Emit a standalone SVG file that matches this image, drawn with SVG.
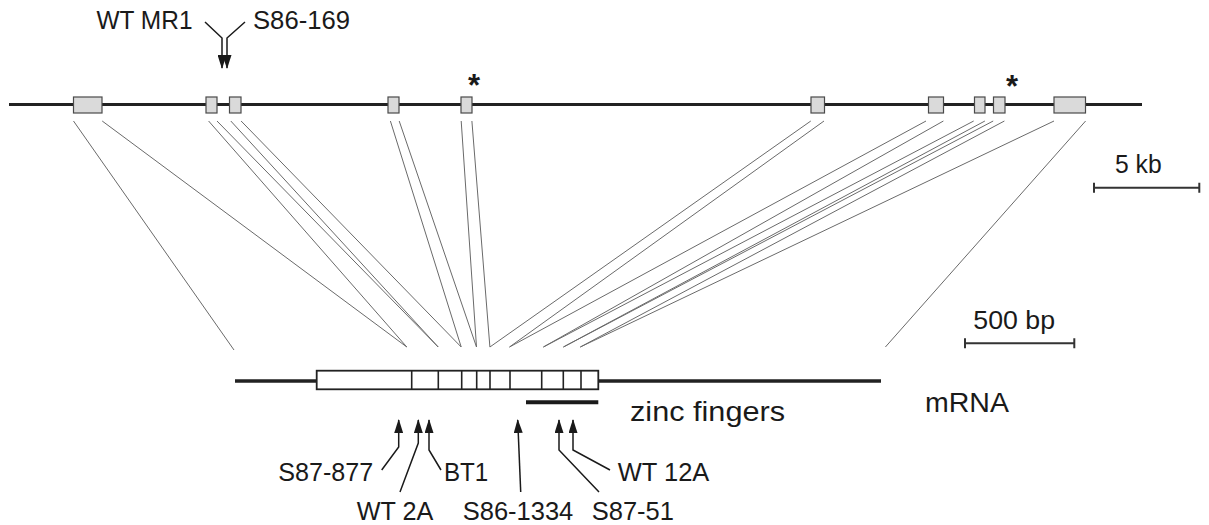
<svg xmlns="http://www.w3.org/2000/svg" width="1209" height="525" viewBox="0 0 1209 525">
<defs>
<style>
.t{font-family:"Liberation Sans",Arial,sans-serif;font-size:25.5px;fill:#1a1a1a}
.big{font-size:27px}
.ast{font-family:"Liberation Sans",Arial,sans-serif;font-size:31px;font-weight:bold;fill:#1a1a1a}
.exon{fill:#dadada;stroke:#4a4a4a;stroke-width:1.2}
.conn line{stroke:#6a6a6a;stroke-width:1}
.arr{fill:none;stroke:#1a1a1a;stroke-width:1.5}
.bar{stroke:#333;stroke-width:2;fill:none}
</style>
<marker id="ah" markerUnits="userSpaceOnUse" markerWidth="14" markerHeight="9" refX="13" refY="4.5" orient="auto">
<path d="M0,0 L14,4.5 L0,9 z" fill="#1a1a1a"/>
</marker>
</defs>
<rect width="1209" height="525" fill="#fff"/>

<g id="genomic">
<line x1="9" y1="104.5" x2="1142" y2="104.5" stroke="#222" stroke-width="3"/>
<rect class="exon" x="73.5" y="97" width="28.5" height="16"/>
<rect class="exon" x="206" y="97" width="11" height="16"/>
<rect class="exon" x="229.5" y="97" width="11.5" height="16"/>
<rect class="exon" x="388" y="97" width="11" height="16"/>
<rect class="exon" x="461" y="97" width="11" height="16"/>
<rect class="exon" x="811" y="97" width="13.5" height="16"/>
<rect class="exon" x="928.5" y="97" width="15" height="16"/>
<rect class="exon" x="974.5" y="97" width="10.5" height="16"/>
<rect class="exon" x="993.5" y="97" width="11.5" height="16"/>
<rect class="exon" x="1054" y="97" width="31.5" height="16"/>
<text class="ast" x="474" y="96" text-anchor="middle">*</text>
<text class="ast" x="1012" y="97" text-anchor="middle">*</text>
</g>

<g id="top-arrow">
<text class="t" x="96.5" y="28.5" textLength="96" lengthAdjust="spacingAndGlyphs">WT MR1</text>
<text class="t" x="253" y="28.5" textLength="97" lengthAdjust="spacingAndGlyphs">S86-169</text>
<path class="arr" d="M205,22 L222,38 L222,68" marker-end="url(#ah)"/>
<path class="arr" d="M245,22 L227,38 L227,68" marker-end="url(#ah)"/>
</g>

<g id="connectors" class="conn">
<line x1="73.5" y1="121" x2="234" y2="350"/>
<line x1="102.2" y1="121" x2="406.8" y2="347"/>
<line x1="208.6" y1="121" x2="406.8" y2="347"/>
<line x1="217" y1="121" x2="438.2" y2="347"/>
<line x1="230.8" y1="121" x2="438.2" y2="347"/>
<line x1="241.1" y1="121" x2="461.2" y2="347"/>
<line x1="390.4" y1="121" x2="461.2" y2="347"/>
<line x1="399.2" y1="121" x2="476.5" y2="347"/>
<line x1="461.2" y1="121" x2="476.5" y2="347"/>
<line x1="471.9" y1="121" x2="489.9" y2="347"/>
<line x1="810.8" y1="121" x2="489.9" y2="347"/>
<line x1="824" y1="121" x2="509.5" y2="347"/>
<line x1="926" y1="121" x2="509.5" y2="347"/>
<line x1="943.4" y1="121" x2="543.4" y2="347"/>
<line x1="973.7" y1="121" x2="543.4" y2="347"/>
<line x1="984.9" y1="121" x2="563.4" y2="347"/>
<line x1="993.2" y1="121" x2="563.4" y2="347"/>
<line x1="1004.4" y1="121" x2="580.3" y2="347"/>
<line x1="1054" y1="121" x2="580.3" y2="347"/>
<line x1="1085.6" y1="121" x2="885.4" y2="347"/>
</g>

<g id="mrna">
<line x1="235" y1="381" x2="881" y2="381" stroke="#222" stroke-width="3.5"/>
<rect x="316.7" y="370.7" width="281.6" height="18.6" fill="#fff" stroke="#222" stroke-width="1.8"/>
<path d="M411.7,370.7V389.3 M438.3,370.7V389.3 M461.7,370.7V389.3 M476.7,370.7V389.3 M490,370.7V389.3 M510,370.7V389.3 M541.7,370.7V389.3 M563.3,370.7V389.3 M581,370.7V389.3" stroke="#222" stroke-width="1.6" fill="none"/>
<text class="t big" x="925" y="412" textLength="84" lengthAdjust="spacingAndGlyphs">mRNA</text>
</g>

<g id="zinc-fingers">
<line x1="526" y1="402.3" x2="598.3" y2="402.3" stroke="#1a1a1a" stroke-width="4"/>
<text class="t big" x="630" y="421" textLength="155" lengthAdjust="spacingAndGlyphs">zinc fingers</text>
</g>

<g id="scale-5kb">
<path class="bar" d="M1094,187.7H1199.3 M1094,182.7V192.7 M1199.3,182.7V192.7"/>
<text class="t" x="1115" y="173.3" textLength="46.7" lengthAdjust="spacingAndGlyphs">5 kb</text>
</g>

<g id="scale-500bp">
<path class="bar" d="M965,343.3H1074.3 M965,338.3V348.3 M1074.3,338.3V348.3"/>
<text class="t" x="973.3" y="329.3" textLength="81.7" lengthAdjust="spacingAndGlyphs">500 bp</text>
</g>

<g id="mutations">
<path class="arr" d="M381.7,470 L398.7,447 L398.7,420" marker-end="url(#ah)"/>
<path class="arr" d="M400,492 L418.3,443 L418.3,420" marker-end="url(#ah)"/>
<path class="arr" d="M441,470 L429,450 L429,420" marker-end="url(#ah)"/>
<path class="arr" d="M520.7,492 L517.7,420" marker-end="url(#ah)"/>
<path class="arr" d="M599,492 L559,450 L559,420" marker-end="url(#ah)"/>
<path class="arr" d="M610,470 L573,450 L573,420" marker-end="url(#ah)"/>
<text class="t" x="278.3" y="481" textLength="95" lengthAdjust="spacingAndGlyphs">S87-877</text>
<text class="t" x="444" y="481" textLength="44.3" lengthAdjust="spacingAndGlyphs">BT1</text>
<text class="t" x="617.7" y="481">WT 12A</text>
<text class="t" x="356.7" y="520" textLength="76.6" lengthAdjust="spacingAndGlyphs">WT 2A</text>
<text class="t" x="462.7" y="520" textLength="110.6" lengthAdjust="spacingAndGlyphs">S86-1334</text>
<text class="t" x="591.7" y="520">S87-51</text>
</g>
</svg>
